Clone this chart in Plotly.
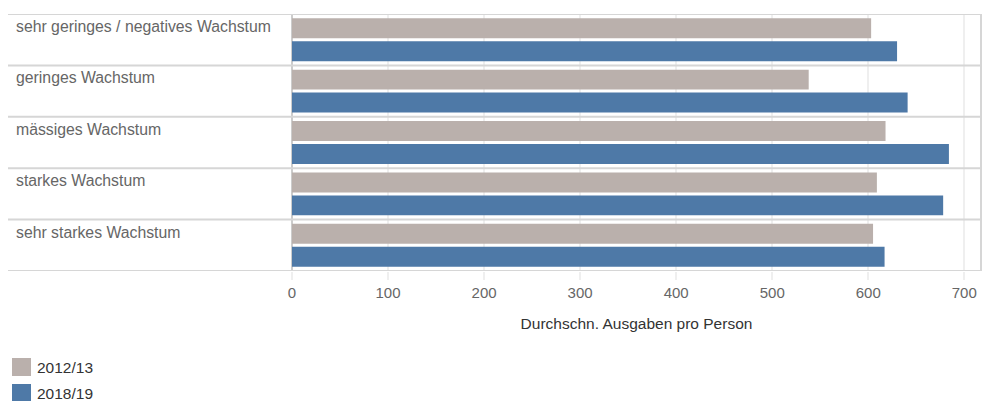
import plotly.graph_objects as go

categories = ["sehr geringes / negatives Wachstum", "geringes Wachstum", "mässiges Wachstum",
              "starkes Wachstum", "sehr starkes Wachstum"]
series_names = ["2012/13", "2018/19"]
values_2012 = [603, 538, 618, 609, 605]
values_2018 = [630, 641, 684, 678, 617]
series_values = [values_2012, values_2018]
colors = ["#bab0ac", "#4e79a7"]
x_ticks = [0, 100, 200, 300, 400, 500, 600, 700]
x_title = "Durchschn. Ausgaben pro Person"

W, H = 982, 401
L, R, T, B = 292, 1, 14, 130
pw = W - L - R
ph = H - T - B

def px_x(p):
    return (p - L) / pw

def px_y(p):
    return (H - B - p) / ph

FONT = "Liberation Sans, Arial, sans-serif"

fig = go.Figure()
for name, vals, col in zip(series_names, series_values, colors):
    fig.add_trace(go.Bar(y=categories, x=vals, name=name, orientation="h",
                         marker=dict(color=col, line=dict(width=0)),
                         hovertemplate="%{y}<br>" + name + ": %{x}<extra></extra>"))

shapes = []
annotations = []
for i in range(len(categories) + 1):
    shapes.append(dict(type="line", xref="paper", yref="y", x0=px_x(8), x1=1,
                       y0=i - 0.5, y1=i - 0.5, line=dict(color="#d6d6d6", width=2), layer="above"))
shapes.append(dict(type="line", xref="paper", yref="paper", x0=1, x1=1, y0=0, y1=1,
                   line=dict(color="#d6d6d6", width=2)))
for i, c in enumerate(categories):
    annotations.append(dict(text=c, xref="paper", yref="y", x=px_x(14), y=i - 0.5,
                            xanchor="left", yanchor="top", yshift=-2, showarrow=False,
                            font=dict(family=FONT, size=15.8, color="#666666")))
ly = [358, 384]
for name, col, y0 in zip(series_names, colors, ly):
    shapes.append(dict(type="rect", xref="paper", yref="paper", x0=px_x(12), x1=px_x(31),
                       y0=px_y(y0 + 18), y1=px_y(y0), fillcolor=col, line=dict(width=0)))
    annotations.append(dict(text=name, xref="paper", yref="paper", x=px_x(35), y=px_y(y0 + 9),
                            xanchor="left", yanchor="middle", showarrow=False,
                            font=dict(family=FONT, size=15.5, color="#333333")))

fig.update_layout(
    width=W, height=H,
    margin=dict(l=L, r=R, t=T, b=B, pad=0),
    paper_bgcolor="white", plot_bgcolor="white",
    barmode="group", bargap=0.107, bargroupgap=0.13,
    showlegend=False,
    font=dict(family=FONT, color="#666666"),
    xaxis=dict(range=[0, 717.4], tickvals=x_ticks, showgrid=True, gridcolor="#efefef", gridwidth=2,
               zeroline=True, zerolinecolor="#cccccc", zerolinewidth=2,
               ticks="outside", ticklen=8, tickcolor="#efefef", tickwidth=2,
               tickfont=dict(family=FONT, size=15, color="#666666"),
               title=dict(text=x_title, font=dict(family=FONT, size=15.5, color="#333333"), standoff=18),
               fixedrange=True),
    yaxis=dict(autorange=False, range=[len(categories) - 0.5, -0.5], showticklabels=False,
               showgrid=False, zeroline=False, ticks="", fixedrange=True),
    shapes=shapes, annotations=annotations,
)

fig.write_html(
    "out.html",
    config={"displayModeBar": False},
    post_script="document.documentElement.style.overflow='hidden';"
                "document.body.style.margin='0';document.body.style.overflow='hidden';",
)
